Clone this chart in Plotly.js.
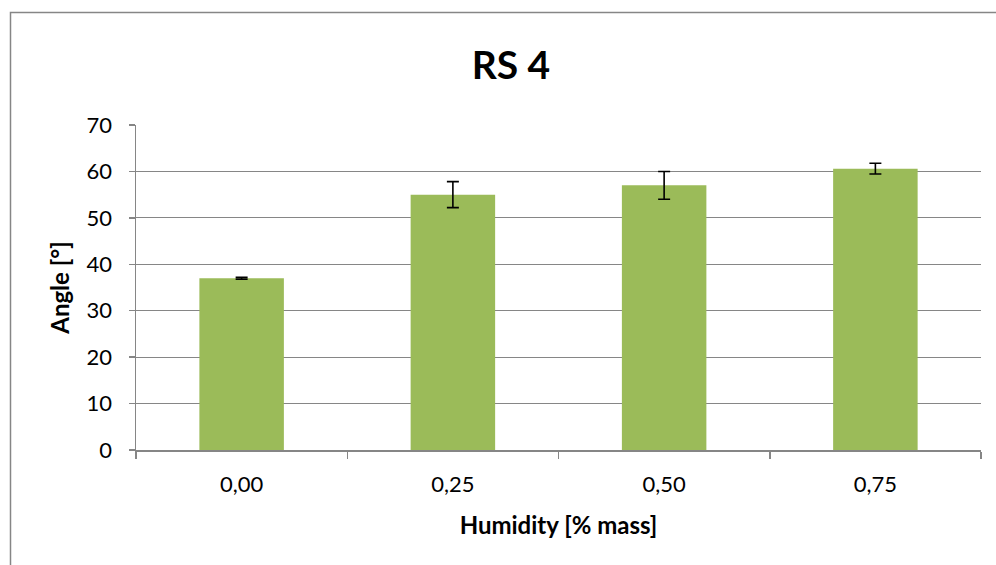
<!DOCTYPE html>
<html>
<head>
<meta charset="utf-8">
<script src="https://cdn.plot.ly/plotly-3.0.1.min.js"></script>
<style>
html,body{margin:0;padding:0;background:#fff;}
#chart{width:996px;height:565px;}
</style>
</head>
<body>
<div id="chart"></div>
<script>
const categories = ["0,00", "0,25", "0,50", "0,75"];
const angleValues = [37.0, 55.0, 57.0, 60.6];
const angleErrors = [0.2, 2.8, 3.0, 1.15];
const yTickValues = [0, 10, 20, 30, 40, 50, 60, 70];

const font = "Lato, 'Open Sans', sans-serif";
const trace = {
  type: "bar",
  x: categories,
  y: angleValues,
  marker: {color: "#9BBB59"},
  width: 0.4,
  error_y: {type: "data", array: angleErrors, visible: true, color: "#000000", thickness: 1.6, width: 6},
  hoverinfo: "skip"
};
const layout = {
  width: 996, height: 565,
  margin: {l: 136, r: 15, t: 125, b: 115},
  paper_bgcolor: "#ffffff", plot_bgcolor: "#ffffff",
  font: {family: font, size: 22, color: "#000000"},
  title: {text: "<b>RS 4</b>", font: {family: font, size: 39, color: "#000"}, x: 0.513, xanchor: "center", y: 0.885, yanchor: "middle"},
  showlegend: false,
  bargap: 0.6,
  xaxis: {
    type: "category",
    showline: true, linecolor: "#868686", linewidth: 1.5,
    ticks: "outside", ticklen: 7, tickcolor: "#868686", tickwidth: 1.5,
    tickson: "boundaries",
    showgrid: false,
    tickfont: {family: font, size: 22},
    ticklabelstandoff: 14,
    title: {text: "<b>Humidity [% mass]</b>", font: {family: font, size: 24}, standoff: 21}
  },
  yaxis: {
    range: [0, 70], tickvals: yTickValues,
    showline: true, linecolor: "#868686", linewidth: 1.5,
    ticks: "outside", ticklen: 6, tickcolor: "#868686", tickwidth: 1.5,
    showgrid: true, gridcolor: "#868686", gridwidth: 1.2,
    zeroline: false,
    tickfont: {family: font, size: 22},
    ticklabelstandoff: 12,
    title: {text: "<b>Angle [°]</b>", font: {family: font, size: 24}, standoff: 10}
  },
  shapes: [{
    type: "rect", xref: "paper", yref: "paper",
    x0: (10.5 - 136) / 845, x1: 1.2,
    y0: -0.6, y1: (450 - 12.5) / 325,
    line: {color: "#868686", width: 1.5}, fillcolor: "rgba(0,0,0,0)", layer: "below"
  }]
};
Plotly.newPlot("chart", [trace], layout, {displayModeBar: false, staticPlot: true});
</script>
</body>
</html>
